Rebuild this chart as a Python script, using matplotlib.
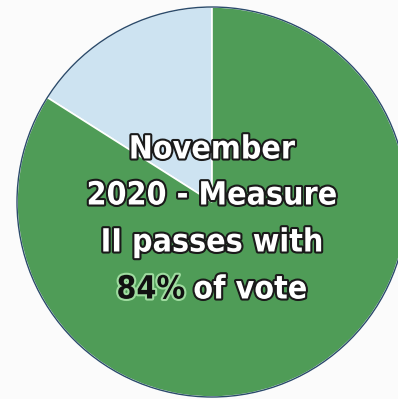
import matplotlib
matplotlib.use('Agg')
import matplotlib.pyplot as plt
import matplotlib.patheffects as pe
from matplotlib.patches import Circle
from matplotlib import font_manager

# values shown in the chart
labels = ['Against', 'For']
shares = [16, 84]
colors = ['#cde3f1', '#4f9c57']
lines = ['November', '2020 - Measure', 'II passes with']
highlight = '84%'
tail = 'of vote'

W, H = 398, 399
cx, cy, r = 212, 202, 195

fig = plt.figure(figsize=(W / 100, H / 100), dpi=100)
fig.patch.set_facecolor('#fbfbfb')
ax = fig.add_axes([0, 0, 1, 1])

ax.pie(shares, colors=colors, startangle=90, counterclock=True, radius=1,
       wedgeprops=dict(edgecolor='white', linewidth=1.2))
ax.add_patch(Circle((0, 0), 1, fill=False, edgecolor='#2b4b6b', linewidth=1.0))
ax.set_xlim(-cx / r, (W - cx) / r)
ax.set_ylim(-(H - cy) / r, cy / r)
ax.set_aspect('equal')
ax.axis('off')

names = {f.name for f in font_manager.fontManager.ttflist}
fam = 'DejaVu Sans Condensed' if 'DejaVu Sans Condensed' in names else 'DejaVu Sans'
font = dict(family=[fam, 'DejaVu Sans'], weight='bold', stretch='condensed', fontsize=23)
outline = [pe.withStroke(linewidth=3, foreground='#1a1a1a')]
glow = [pe.withStroke(linewidth=3, foreground='#9fdca0')]

ys = [150, 196, 243]
for txt, y in zip(lines, ys):
    ax.text(0, (cy - y) / r, txt, ha='center', va='center', color='white',
            path_effects=outline, **font)

# last line: black "84%" followed by white "of vote"
y4 = (cy - 290) / r
gap = 8 / r
renderer = fig.canvas.get_renderer()
t1 = ax.text(0, y4, highlight, ha='left', va='center', color='#111111',
             path_effects=glow, **font)
t2 = ax.text(0, y4, tail, ha='left', va='center', color='white',
             path_effects=outline, **font)
w1 = t1.get_window_extent(renderer).width / r
w2 = t2.get_window_extent(renderer).width / r
x0 = -(w1 + gap + w2) / 2
t1.set_x(x0)
t2.set_x(x0 + w1 + gap)

fig.savefig('out.png', dpi=100, facecolor=fig.get_facecolor())
